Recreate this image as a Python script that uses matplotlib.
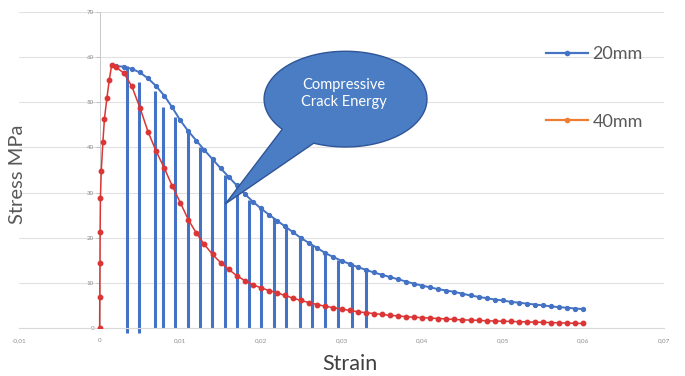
import matplotlib.pyplot as plt
from matplotlib.lines import Line2D
from matplotlib.patches import PathPatch
from matplotlib.path import Path
from matplotlib.ticker import FuncFormatter
import numpy as np

plt.rcParams['font.family'] = ['Lato', 'DejaVu Sans']

# post-peak strain steps shared by both specimens
strain = [0.002, 0.003, 0.004, 0.005, 0.006, 0.007, 0.008, 0.009, 0.010, 0.011,
          0.012, 0.013, 0.014, 0.015, 0.016, 0.017, 0.018, 0.019, 0.020, 0.021,
          0.022, 0.023, 0.024, 0.025, 0.026, 0.027, 0.028, 0.029, 0.030, 0.031,
          0.032, 0.033, 0.034, 0.035, 0.036, 0.037, 0.038, 0.039, 0.040, 0.041,
          0.042, 0.043, 0.044, 0.045, 0.046, 0.047, 0.048, 0.049, 0.050, 0.051,
          0.052, 0.053, 0.054, 0.055, 0.056, 0.057, 0.058, 0.059, 0.060]

stress_20mm = [58.0, 57.9, 57.4, 56.6, 55.3, 53.6, 51.5, 48.9, 46.0, 43.6,
               41.5, 39.4, 37.4, 35.4, 33.5, 31.6, 29.7, 28.0, 26.5, 25.1,
               23.8, 22.5, 21.2, 19.9, 18.8, 17.7, 16.6, 15.7, 14.9, 14.2,
               13.5, 12.9, 12.3, 11.8, 11.3, 10.8, 10.3, 9.8, 9.4, 9.0,
               8.6, 8.3, 8.0, 7.6, 7.2, 6.9, 6.6, 6.3, 6.1, 5.8,
               5.6, 5.4, 5.2, 5.0, 4.8, 4.6, 4.5, 4.3, 4.2]

# 40mm: loading branch, then softening branch
rise_strain_40mm = [0.0, 0.00002, 0.00004, 0.00006, 0.0001, 0.0002, 0.0004,
                    0.0006, 0.0009, 0.0012, 0.0015]
rise_stress_40mm = [0.0, 6.9, 14.4, 21.3, 28.9, 34.7, 41.1, 46.4, 50.9, 55.0, 58.3]
stress_40mm = [57.8, 56.5, 53.5, 48.8, 43.5, 39.2, 35.5, 31.5, 27.8, 24.0,
               21.0, 18.5, 16.3, 14.5, 13.0, 11.6, 10.5, 9.6, 8.9, 8.3,
               7.8, 7.2, 6.6, 6.1, 5.6, 5.2, 4.8, 4.5, 4.2, 3.9,
               3.6, 3.4, 3.2, 3.0, 2.8, 2.7, 2.5, 2.4, 2.3, 2.2,
               2.1, 2.0, 1.9, 1.8, 1.75, 1.7, 1.6, 1.55, 1.5, 1.45,
               1.4, 1.35, 1.3, 1.25, 1.2, 1.15, 1.1, 1.05, 1.0]

# hatching under the 20mm curve (crack energy)
crack_strain = [0.0034, 0.0049, 0.0069, 0.0078, 0.0094, 0.0109, 0.0125, 0.0139,
                0.0155, 0.0170, 0.0185, 0.0200, 0.0216, 0.0231, 0.0248, 0.0263,
                0.0280, 0.0296, 0.0313, 0.0330]
crack_top = [58.0, 54.5, 52.4, 49.0, 46.7, 43.6, 40.2, 37.8, 34.0, 31.8,
             28.4, 26.7, 24.4, 22.2, 20.0, 18.4, 16.7, 15.1, 14.4, 13.3]
crack_bottom = [-1.2, -1.2, 0, 0, 0, 0, 0, 0, 0, 0,
                0, 0, 0, 0, 0, 0, 0, 0, 0, 0]

x_ticks = [-0.01, 0.0, 0.01, 0.02, 0.03, 0.04, 0.05, 0.06, 0.07]
y_ticks = [0, 10, 20, 30, 40, 50, 60, 70]

blue = '#4472C4'
red = '#DC3535'
orange = '#ED7D31'

fig = plt.figure(figsize=(6.85, 3.76), dpi=100)
ax = fig.add_axes([19 / 685, 48 / 376, 645 / 685, 316 / 376])
ax.set_xlim(-0.01, 0.07)
ax.set_ylim(0, 70)

ax.set_xticks(x_ticks)
ax.set_yticks(y_ticks)
ax.xaxis.set_major_formatter(FuncFormatter(
    lambda v, p: '0' if abs(v) < 1e-9 else f'{v:.2f}'.replace('.', ',')))
ax.tick_params(axis='x', length=0, pad=7, labelsize=4.5, labelcolor='#8c8c8c')
ax.tick_params(axis='y', length=3, width=0.6, color='#bfbfbf', pad=1,
               labelsize=4.5, labelcolor='#8c8c8c')

for side in ['top', 'right']:
    ax.spines[side].set_visible(False)
ax.spines['left'].set_position(('data', 0))
ax.spines['left'].set_color('#c8c8c8')
ax.spines['left'].set_linewidth(0.7)
ax.spines['bottom'].set_color('#d9d9d9')
ax.spines['bottom'].set_linewidth(0.8)
ax.yaxis.grid(True, color='#e1e1e1', lw=0.8)
ax.set_axisbelow(True)

ax.vlines(crack_strain, crack_bottom, crack_top, colors=blue, lw=2.2,
          clip_on=False, zorder=2)
ax.plot(strain, stress_20mm, '-o', color=blue, lw=1.4, ms=2.8, zorder=3)
ax.plot(rise_strain_40mm + strain, rise_stress_40mm + stress_40mm, '-o',
        color=red, lw=1.1, ms=3.2, zorder=4)

# speech bubble: ellipse with a wedge tail, built in data units
cx, cy, rx, ry = 0.0305, 50.7, 0.0101, 10.6
tip = (0.0156, 27.5)
t = np.radians(np.linspace(247, 219 + 360, 200))
verts = list(zip(cx + rx * np.cos(t), cy + ry * np.sin(t))) + [tip, tip]
codes = [Path.MOVETO] + [Path.LINETO] * (len(verts) - 2) + [Path.CLOSEPOLY]
ax.add_patch(PathPatch(Path(verts, codes), facecolor='#4A7DC4',
                       edgecolor='#2F5597', lw=1.0, zorder=6))
ax.text(cx - 0.0002, cy + 1.2, 'Compressive\nCrack Energy', color='white',
        fontsize=10.5, ha='center', va='center', linespacing=1.25, zorder=7)

handles = [Line2D([], [], color=blue, marker='o', ms=3, lw=1.6),
           Line2D([], [], color=orange, marker='o', ms=3, lw=1.6)]
ax.legend(handles, ['20mm', '40mm'], loc='upper left',
          bbox_to_anchor=(530 / 685, 1 - 30 / 376),
          bbox_transform=fig.transFigure, frameon=False, fontsize=13,
          labelcolor='#595959', handlelength=2.3, handletextpad=0.25,
          labelspacing=2.85)

fig.text(18 / 685, 1 - 174 / 376, 'Stress MPa', rotation=90, fontsize=14.5,
         color='#595959', ha='center', va='center')
fig.text(350 / 685, 1 - 364 / 376, 'Strain', fontsize=15.5, color='#404040',
         ha='center', va='center')

fig.savefig('out.png', dpi=100, facecolor='white')
